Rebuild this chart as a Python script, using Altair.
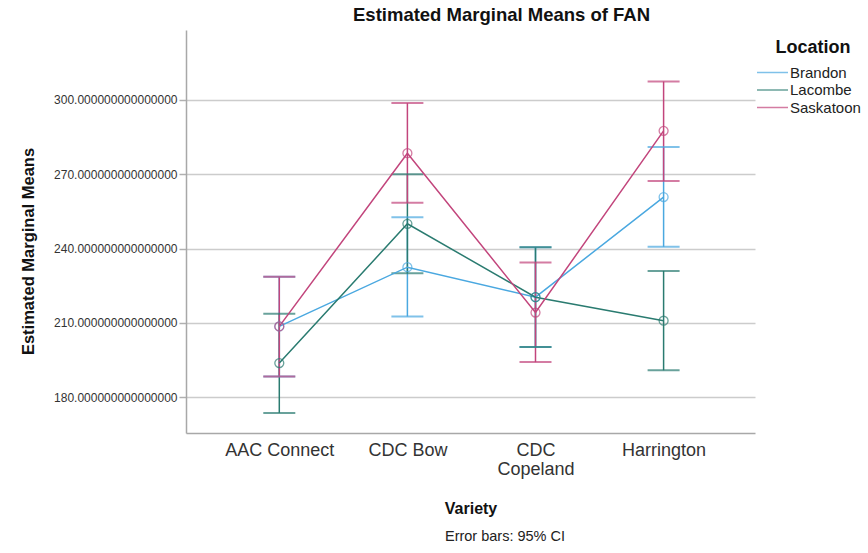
import altair as alt
import pandas as pd

varieties = ["AAC Connect", "CDC Bow", "CDC Copeland", "Harrington"]
locations = ["Brandon", "Lacombe", "Saskatoon"]
colors = ["#4aa8e0", "#2a7b70", "#c2457c"]

brandon_mean = [208.6, 232.5, 220.4, 260.8]
brandon_lo = [188.4, 212.6, 200.3, 240.7]
brandon_hi = [228.6, 252.6, 240.5, 281.0]

lacombe_mean = [193.8, 250.0, 220.4, 210.9]
lacombe_lo = [173.7, 230.1, 200.3, 190.9]
lacombe_hi = [213.7, 270.0, 240.5, 231.0]

sask_mean = [208.6, 278.5, 214.2, 287.5]
sask_lo = [188.4, 258.5, 194.2, 267.3]
sask_hi = [228.6, 298.7, 234.4, 307.4]

y_ticks = [180, 210, 240, 270, 300]

rows = []
for loc, means, los, his in [
    ("Brandon", brandon_mean, brandon_lo, brandon_hi),
    ("Lacombe", lacombe_mean, lacombe_lo, lacombe_hi),
    ("Saskatoon", sask_mean, sask_lo, sask_hi),
]:
    for i, (v, m, lo, hi) in enumerate(zip(varieties, means, los, his)):
        rows.append({"Variety": v, "idx": i, "Location": loc, "mean": m, "lo": lo, "hi": hi})
df = pd.DataFrame(rows)

FONT = "Liberation Sans"
W, H = 569, 403

label_expr = (
    "datum.value == 0 ? 'AAC Connect' : datum.value == 1 ? 'CDC Bow' : "
    "datum.value == 2 ? ['CDC', 'Copeland'] : 'Harrington'"
)

x_scale = alt.Scale(domain=[-0.7283, 3.7135], nice=False, zero=False)
x_axis = alt.Axis(
    title="Variety",
    titleFontSize=16,
    titleFontWeight="bold",
    titleColor="#111",
    titleBaseline="alphabetic",
    titleY=80,
    values=[0, 1, 2, 3],
    labelExpr=label_expr,
    labelFontSize=18,
    labelColor="#333",
    labelPadding=8,
    labelAngle=0,
    labelLineHeight=19,
    labelFlush=False,
    labelOverlap=False,
    ticks=False,
    grid=False,
    domainColor="#a8a8a8",
    domainWidth=1.5,
)

y_scale = alt.Scale(domain=[165.6, 328.2], nice=False, zero=False)
y_axis = alt.Axis(
    title="Estimated Marginal Means",
    titleFontSize=16.5,
    titleFontWeight="bold",
    titleColor="#111",
    titleX=-158,
    titleY=221,
    titleBaseline="middle",
    values=y_ticks,
    format=".15f",
    labelFontSize=12,
    labelColor="#333",
    labelPadding=2,
    tickSize=7,
    tickColor="#b0b0b0",
    tickWidth=1.5,
    grid=True,
    gridColor="#cccccc",
    gridWidth=1.5,
    domainColor="#a8a8a8",
    domainWidth=1.5,
)

legend = alt.Legend(
    title="Location",
    orient="none",
    legendX=579,
    legendY=8.5,
    padding=0,
    titleFontSize=18,
    titleFontWeight="bold",
    titleColor="#111",
    titlePadding=8.5,
    titleAnchor="middle",
    labelFontSize=15,
    labelColor="#222",
    labelOffset=10,
    rowPadding=1.5,
    symbolType="M-3.1,0H3.1",
    symbolSize=100,
    symbolStrokeWidth=1.5,
    symbolFillColor="transparent",
)
color_enc = alt.Color("Location:N", scale=alt.Scale(domain=locations, range=colors), legend=legend)

base = alt.Chart(df)
X = alt.X("idx:Q", scale=x_scale, axis=x_axis)

rules = base.mark_rule(strokeWidth=1.5).encode(
    x=X,
    y=alt.Y("lo:Q", scale=y_scale, axis=y_axis),
    y2="hi:Q",
    color=color_enc,
)

caps_lo = base.mark_tick(size=32, thickness=2, orient="horizontal").encode(
    x=X,
    y=alt.Y("lo:Q", scale=y_scale),
    color=color_enc,
)
caps_hi = base.mark_tick(size=32, thickness=2, orient="horizontal").encode(
    x=X,
    y=alt.Y("hi:Q", scale=y_scale),
    color=color_enc,
)

lines = base.mark_line(strokeWidth=1.5).encode(
    x=X,
    y=alt.Y("mean:Q", scale=y_scale),
    color=color_enc,
    order="idx:Q",
)

points = base.mark_point(shape="circle", filled=False, size=80, strokeWidth=1.3).encode(
    x=X,
    y=alt.Y("mean:Q", scale=y_scale),
    color=color_enc,
)

texts = pd.DataFrame({
    "t": ["Estimated Marginal Means of FAN", "Error bars: 95% CI"],
})

title_txt = alt.Chart(texts.iloc[[0]]).mark_text(
    font=FONT, fontSize=18.5, fontWeight="bold", color="#111", align="left", baseline="alphabetic"
).encode(x=alt.value(167), y=alt.value(-9.5), text="t:N")

foot = alt.Chart(texts.iloc[[1]]).mark_text(
    font=FONT, fontSize=14.5, color="#222", align="center", baseline="alphabetic"
).encode(x=alt.value(319), y=alt.value(511), text="t:N")

chart = (
    alt.layer(rules, caps_lo, caps_hi, lines, points, title_txt, foot)
    .properties(
        width=W,
        height=H,
        autosize=alt.AutoSizeParams(type="none"),
        padding={"left": 186, "top": 30, "right": 868 - 186 - W, "bottom": 553 - 30 - H},
    )
    .configure(font=FONT, background="white")
    .configure_view(stroke=None)
    .configure_axis(labelFont=FONT, titleFont=FONT)
    .configure_legend(labelFont=FONT, titleFont=FONT)
)

chart.save("out.html", embed_options={"renderer": "svg", "actions": False})
